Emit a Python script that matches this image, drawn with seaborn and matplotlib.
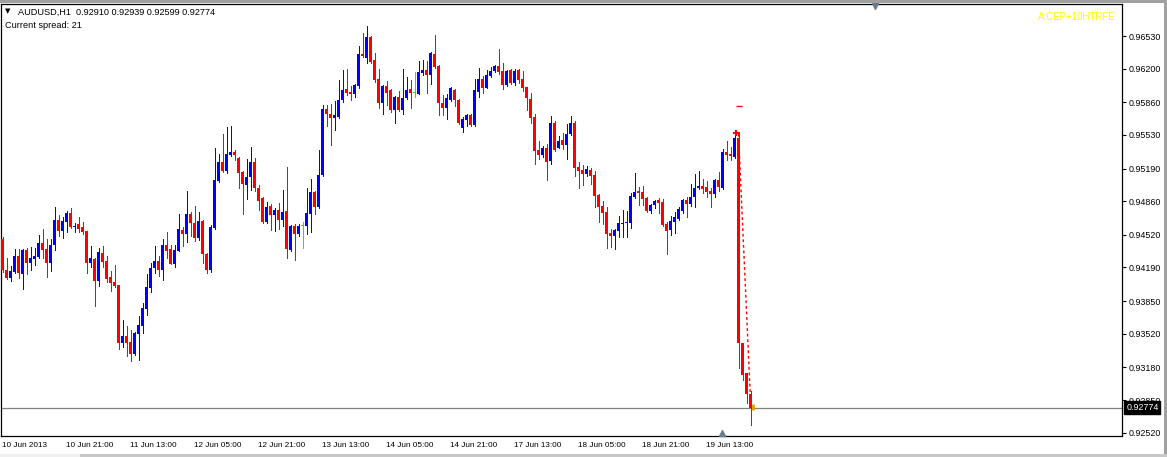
import numpy as np
import pandas as pd
import matplotlib
matplotlib.use("Agg")
import matplotlib.pyplot as plt
import seaborn as sns
from matplotlib.patches import Rectangle

# ---------------- data (AUDUSD H1) ----------------
open_ = [0.94475, 0.94164, 0.94086, 0.94147, 0.94306, 0.94127, 0.94366, 0.94238, 0.94279, 0.94299,
         0.94437, 0.94374, 0.94238, 0.94417, 0.94667, 0.94559, 0.94650, 0.94741, 0.94596, 0.94632,
         0.94599, 0.94559, 0.94238, 0.94276, 0.94056, 0.94336, 0.94255, 0.94094, 0.94043, 0.94013,
         0.93423, 0.93500, 0.93436, 0.93318, 0.93520, 0.93601, 0.93773, 0.93985, 0.94181, 0.94255,
         0.94164, 0.94417, 0.94377, 0.94228, 0.94359, 0.94569, 0.94528, 0.94730, 0.94639, 0.94488,
         0.94660, 0.94326, 0.94164, 0.94589, 0.95064, 0.95256, 0.95165, 0.95327, 0.95357, 0.95297,
         0.95155, 0.95024, 0.95105, 0.95256, 0.94993, 0.94890, 0.94650, 0.94811, 0.94720, 0.94771,
         0.94670, 0.94761, 0.94366, 0.94609, 0.94528, 0.94609, 0.94609, 0.94730, 0.94953, 0.94801,
         0.95125, 0.95792, 0.95741, 0.95701, 0.95711, 0.95883, 0.95994, 0.95964, 0.95944, 0.96025,
         0.96348, 0.96308, 0.96520, 0.96287, 0.96095, 0.95853, 0.96025, 0.95984, 0.95782, 0.95913,
         0.95782, 0.95903, 0.95994, 0.95954, 0.95944, 0.96156, 0.96186, 0.96136, 0.96348, 0.96227,
         0.95853, 0.95802, 0.95883, 0.95984, 0.95883, 0.95600, 0.95681, 0.95731, 0.95630, 0.95964,
         0.96095, 0.96004, 0.96126, 0.96176, 0.96227, 0.96176, 0.96035, 0.96186, 0.96055, 0.96186,
         0.96095, 0.96014, 0.95893, 0.95711, 0.95377, 0.95327, 0.95398, 0.95266, 0.95650, 0.95398,
         0.95479, 0.95428, 0.95539, 0.95650, 0.95206, 0.95175, 0.95135, 0.95175, 0.95125, 0.94923,
         0.94811, 0.94751, 0.94538, 0.94508, 0.94559, 0.94629, 0.94639, 0.94639, 0.94902, 0.94963,
         0.94953, 0.94892, 0.94761, 0.94821, 0.94872, 0.94852, 0.94629, 0.94569, 0.94650, 0.94680,
         0.94761, 0.94872, 0.94832, 0.94902, 0.94993, 0.95014, 0.95003, 0.94963, 0.94933, 0.95074,
         0.94993, 0.95357, 0.95337, 0.95307, 0.95499, 0.93426, 0.93123, 0.92910]

high = [0.94495, 0.94283, 0.94205, 0.94377, 0.94377, 0.94377, 0.94384, 0.94394, 0.94387, 0.94518,
        0.94579, 0.94478, 0.94478, 0.94801, 0.94720, 0.94697, 0.94761, 0.94791, 0.94636, 0.94700,
        0.94650, 0.94562, 0.94404, 0.94286, 0.94384, 0.94407, 0.94306, 0.94157, 0.94215, 0.94013,
        0.93659, 0.93601, 0.93561, 0.93534, 0.93699, 0.93831, 0.94124, 0.94232, 0.94407, 0.94306,
        0.94475, 0.94548, 0.94414, 0.94414, 0.94733, 0.94602, 0.94963, 0.94751, 0.94811, 0.94751,
        0.94670, 0.94336, 0.94619, 0.95398, 0.95337, 0.95539, 0.95610, 0.95620, 0.95377, 0.95307,
        0.95165, 0.95287, 0.95408, 0.95297, 0.95024, 0.94902, 0.94852, 0.94832, 0.94791, 0.94842,
        0.94973, 0.95206, 0.94619, 0.94629, 0.94629, 0.94650, 0.94993, 0.95084, 0.94963, 0.95377,
        0.95832, 0.95832, 0.95843, 0.95873, 0.96085, 0.96186, 0.96196, 0.96025, 0.96045, 0.96429,
        0.96560, 0.96631, 0.96530, 0.96358, 0.96196, 0.96035, 0.96075, 0.95994, 0.95923, 0.95974,
        0.96196, 0.96116, 0.96085, 0.96166, 0.96277, 0.96287, 0.96277, 0.96368, 0.96540, 0.96235,
        0.95934, 0.95944, 0.96014, 0.95994, 0.95893, 0.95711, 0.95741, 0.95741, 0.96095, 0.96207,
        0.96126, 0.96186, 0.96217, 0.96232, 0.96399, 0.96257, 0.96186, 0.96196, 0.96196, 0.96196,
        0.96176, 0.96019, 0.95954, 0.95741, 0.95468, 0.95418, 0.95438, 0.95721, 0.95671, 0.95519,
        0.95549, 0.95640, 0.95721, 0.95671, 0.95256, 0.95226, 0.95216, 0.95196, 0.95165, 0.94928,
        0.94862, 0.94801, 0.94579, 0.94579, 0.94710, 0.94771, 0.94761, 0.94943, 0.95145, 0.95003,
        0.95014, 0.94902, 0.94832, 0.94872, 0.94892, 0.94882, 0.94650, 0.94710, 0.94751, 0.94801,
        0.94882, 0.94902, 0.95034, 0.95135, 0.95165, 0.95084, 0.95064, 0.94993, 0.95084, 0.95155,
        0.95388, 0.95468, 0.95408, 0.95549, 0.95560, 0.93430, 0.93128, 0.92939]

low = [0.94147, 0.94073, 0.94053, 0.94137, 0.94080, 0.93972, 0.94124, 0.94164, 0.94218, 0.94283,
       0.94286, 0.94094, 0.94157, 0.94370, 0.94511, 0.94488, 0.94545, 0.94592, 0.94545, 0.94545,
       0.94531, 0.94137, 0.94198, 0.93803, 0.94006, 0.94198, 0.94040, 0.93955, 0.93995, 0.93369,
       0.93383, 0.93298, 0.93247, 0.93310, 0.93257, 0.93530, 0.93712, 0.93945, 0.94131, 0.94107,
       0.94066, 0.94289, 0.94225, 0.94198, 0.94356, 0.94407, 0.94447, 0.94508, 0.94457, 0.94468,
       0.94235, 0.94134, 0.94144, 0.94579, 0.95054, 0.95160, 0.95145, 0.95320, 0.95276, 0.94993,
       0.94730, 0.94882, 0.94973, 0.94960, 0.94771, 0.94639, 0.94640, 0.94569, 0.94559, 0.94579,
       0.94609, 0.94286, 0.94356, 0.94265, 0.94508, 0.94387, 0.94528, 0.94548, 0.94730, 0.94791,
       0.95115, 0.95620, 0.95428, 0.95580, 0.95701, 0.95863, 0.95934, 0.95883, 0.95913, 0.96004,
       0.96318, 0.96257, 0.96260, 0.96065, 0.95802, 0.95741, 0.95832, 0.95762, 0.95650, 0.95772,
       0.95741, 0.95893, 0.95802, 0.95913, 0.95940, 0.96136, 0.95954, 0.96045, 0.96210, 0.95731,
       0.95731, 0.95691, 0.95873, 0.95822, 0.95640, 0.95559, 0.95620, 0.95625, 0.95620, 0.95913,
       0.95954, 0.96000, 0.96116, 0.96166, 0.96146, 0.95994, 0.96025, 0.96045, 0.96035, 0.96055,
       0.95974, 0.95782, 0.95650, 0.95236, 0.95287, 0.95307, 0.95074, 0.95236, 0.95367, 0.95393,
       0.95388, 0.95287, 0.95529, 0.95115, 0.94993, 0.95024, 0.95115, 0.95034, 0.94801, 0.94650,
       0.94629, 0.94387, 0.94397, 0.94377, 0.94498, 0.94498, 0.94498, 0.94589, 0.94892, 0.94821,
       0.94821, 0.94755, 0.94741, 0.94791, 0.94741, 0.94609, 0.94326, 0.94518, 0.94538, 0.94670,
       0.94741, 0.94700, 0.94811, 0.94801, 0.94983, 0.94943, 0.94902, 0.94801, 0.94902, 0.94963,
       0.94983, 0.95276, 0.95276, 0.95297, 0.93174, 0.93052, 0.92820, 0.92599]

close = [0.94164, 0.94086, 0.94154, 0.94306, 0.94131, 0.94366, 0.94238, 0.94286, 0.94306, 0.94437,
         0.94366, 0.94238, 0.94417, 0.94667, 0.94559, 0.94660, 0.94741, 0.94596, 0.94612, 0.94582,
         0.94548, 0.94238, 0.94283, 0.94053, 0.94346, 0.94248, 0.94073, 0.94036, 0.94003, 0.93429,
         0.93500, 0.93423, 0.93315, 0.93527, 0.93611, 0.93780, 0.93992, 0.94185, 0.94255, 0.94164,
         0.94417, 0.94359, 0.94228, 0.94366, 0.94579, 0.94528, 0.94730, 0.94639, 0.94488, 0.94660,
         0.94326, 0.94164, 0.94599, 0.95074, 0.95256, 0.95165, 0.95337, 0.95357, 0.95327, 0.95145,
         0.95034, 0.95105, 0.95256, 0.94993, 0.94862, 0.94650, 0.94801, 0.94720, 0.94771, 0.94670,
         0.94751, 0.94377, 0.94609, 0.94528, 0.94609, 0.94609, 0.94741, 0.94953, 0.94801, 0.95125,
         0.95792, 0.95741, 0.95701, 0.95731, 0.95883, 0.95984, 0.95954, 0.95944, 0.96035, 0.96348,
         0.96328, 0.96520, 0.96270, 0.96085, 0.95853, 0.96025, 0.95954, 0.95782, 0.95913, 0.95782,
         0.95903, 0.95984, 0.95954, 0.95954, 0.96166, 0.96186, 0.96136, 0.96358, 0.96217, 0.95853,
         0.95802, 0.95903, 0.96004, 0.95883, 0.95650, 0.95691, 0.95731, 0.95630, 0.95984, 0.96095,
         0.96004, 0.96136, 0.96176, 0.96227, 0.96166, 0.96035, 0.96176, 0.96055, 0.96176, 0.96085,
         0.96004, 0.95903, 0.95701, 0.95367, 0.95327, 0.95398, 0.95256, 0.95650, 0.95377, 0.95468,
         0.95428, 0.95539, 0.95650, 0.95196, 0.95165, 0.95135, 0.95185, 0.95115, 0.94912, 0.94801,
         0.94741, 0.94528, 0.94508, 0.94569, 0.94639, 0.94639, 0.94650, 0.94912, 0.94953, 0.94943,
         0.94882, 0.94761, 0.94821, 0.94862, 0.94842, 0.94619, 0.94559, 0.94660, 0.94700, 0.94781,
         0.94872, 0.94832, 0.94902, 0.94993, 0.95014, 0.94983, 0.94953, 0.94933, 0.95074, 0.95003,
         0.95357, 0.95327, 0.95317, 0.95499, 0.93426, 0.93103, 0.92911, 0.92774]

time_labels = ["10 Jun 2013", "10 Jun 21:00", "11 Jun 13:00", "12 Jun 05:00", "12 Jun 21:00",
               "13 Jun 13:00", "14 Jun 05:00", "14 Jun 21:00", "17 Jun 13:00", "18 Jun 05:00",
               "18 Jun 21:00", "19 Jun 13:00"]
price_ticks = [0.96530, 0.96200, 0.95860, 0.95530, 0.95190, 0.94860, 0.94520,
               0.94190, 0.93850, 0.93520, 0.93180, 0.92850, 0.92520]
symbol = "AUDUSD,H1"
spread = 21
indicator_text = "A:CEP+10HTRFE"
level_price = 0.95823          # short red level mark on the last swing
signal_bar = 183
signal_price = 0.95548         # red '+' signal
dotted_bars = [184, 187]
dotted_prices = [0.95540, 0.92850]

# ---------------- style ----------------
sns.set_theme(style="white")
plt.rcParams['font.family'] = ['Liberation Sans', 'DejaVu Sans']

W, H = 1167, 457
fig = plt.figure(figsize=(W / 100, H / 100), dpi=100)
fig.patch.set_facecolor("white")
ax = fig.add_axes([1 / W, (H - 436) / H, 1121 / W, 432 / H])
ax.set_facecolor("white")

df = pd.DataFrame({"o": open_, "h": high, "l": low, "c": close})
df["i"] = np.arange(len(df))
df["col"] = np.where(df.c > df.o, "#0000ff", np.where(df.c < df.o, "#ff0000", "#00ff00"))

# wicks (1 px, crisp)
ax.vlines(df.i.to_numpy(), df.l.to_numpy(), df.h.to_numpy(), colors=list(df.col),
          linewidths=0.72, antialiased=False, zorder=3)
# bodies (3 px of a 4 px slot)
body_lo = np.minimum(df.o, df.c).to_numpy()
body_h = np.maximum(np.abs(df.c - df.o), 0.00009).to_numpy()
ax.bar(df.i.to_numpy(), body_h, bottom=body_lo, width=0.75, color=list(df.col),
       edgecolor="none", linewidth=0, zorder=4)

# current price line
ax.axhline(close[-1], color="#808080", linewidth=0.9, zorder=2)

# indicator: dotted line, level mark and signal
sns.lineplot(x=dotted_bars, y=dotted_prices, ax=ax, color="#ff0000",
             linestyle=(0, (2, 2)), linewidth=1.0, zorder=5)
ax.hlines(level_price, signal_bar + 0.3, signal_bar + 1.9, color="#ff0000", linewidth=1.0, zorder=5)
ax.plot([signal_bar + 0.4], [signal_price], marker="+", color="#ff0000", ms=5, mew=1.5, zorder=6)
ax.plot([len(df) - 0.3], [close[-1] + 0.00005], marker="|", color="#e0a000", ms=4, mew=2, zorder=6)

# axes limits (4 px per bar, bars centred on pixel centres)
ax.set_xlim(-0.375, -0.375 + 1121 / 4)
ax.set_ylim(0.924864, 0.968535)

# x ticks
ax.set_xticks(np.arange(0, len(df), 16)[:len(time_labels)])
ax.set_xticklabels(time_labels, fontsize=5.9, ha="left")
# y ticks
ax.yaxis.tick_right()
ax.set_yticks(price_ticks)
ax.set_yticklabels([f"{p:.5f}" for p in price_ticks], fontsize=6.4)
ax.tick_params(axis="both", direction="out", length=3, width=0.8, color="black",
               labelcolor="black", pad=2)
ax.tick_params(axis="x", pad=1.5)
for s in ax.spines.values():
    s.set_color("black")
    s.set_linewidth(0.9)
    s.set_visible(True)
ax.grid(False)

# current price label on the axis
ax.annotate(f"{close[-1]:.5f}", xy=(1, close[-1]), xycoords=("axes fraction", "data"),
            xytext=(3, 0), textcoords="offset points", ha="left", va="center",
            color="white", fontsize=6.4, zorder=10, annotation_clip=False,
            bbox=dict(boxstyle="square,pad=0.22", fc="black", ec="black"))

# shift markers
ax.plot([(875 - 1) / 1121], [(436 - 5.5) / 432], marker="v", color="#6d7b8d", ms=5,
        transform=ax.transAxes, clip_on=False, zorder=10)
ax.plot([(722 - 1) / 1121], [(436 - 432.5) / 432], marker="^", color="#6d7b8d", ms=5,
        transform=ax.transAxes, clip_on=False, zorder=10)

# header texts
fig.text(5 / W, 1 - 11.5 / H, "▼", fontsize=5, color="black", va="center", ha="left",
         family=["DejaVu Sans"])
fig.text(18 / W, 1 - 12 / H,
         f"{symbol}  {open_[-1]:.5f} {high[-1]:.5f} {low[-1]:.5f} {close[-1]:.5f}",
         fontsize=6.6, color="black", va="center", ha="left")
fig.text(5 / W, 1 - 25 / H, f"Current spread: {spread}", fontsize=6.6, color="black",
         va="center", ha="left")
fig.text(1116 / W, 1 - 17 / H, indicator_text, fontsize=7, color="#ffff00",
         va="center", ha="right")

# window frame decorations
fig.patches.append(Rectangle((0, 1 - 2.5 / H), 1, 2.5 / H, transform=fig.transFigure,
                             facecolor="#a0a0a0", edgecolor="none", zorder=0))
fig.patches.append(Rectangle((1164 / W, 0), 3 / W, 1, transform=fig.transFigure,
                             facecolor="#a0a0a0", edgecolor="none", zorder=0))
fig.patches.append(Rectangle((0, 0), 1, 3 / H, transform=fig.transFigure,
                             facecolor="#c8c8c8", edgecolor="none", zorder=0))
fig.patches.append(Rectangle((0, 0), 80 / W, 3 / H, transform=fig.transFigure,
                             facecolor="#f0f0f0", edgecolor="none", zorder=1))

fig.savefig("out.png", dpi=100)
